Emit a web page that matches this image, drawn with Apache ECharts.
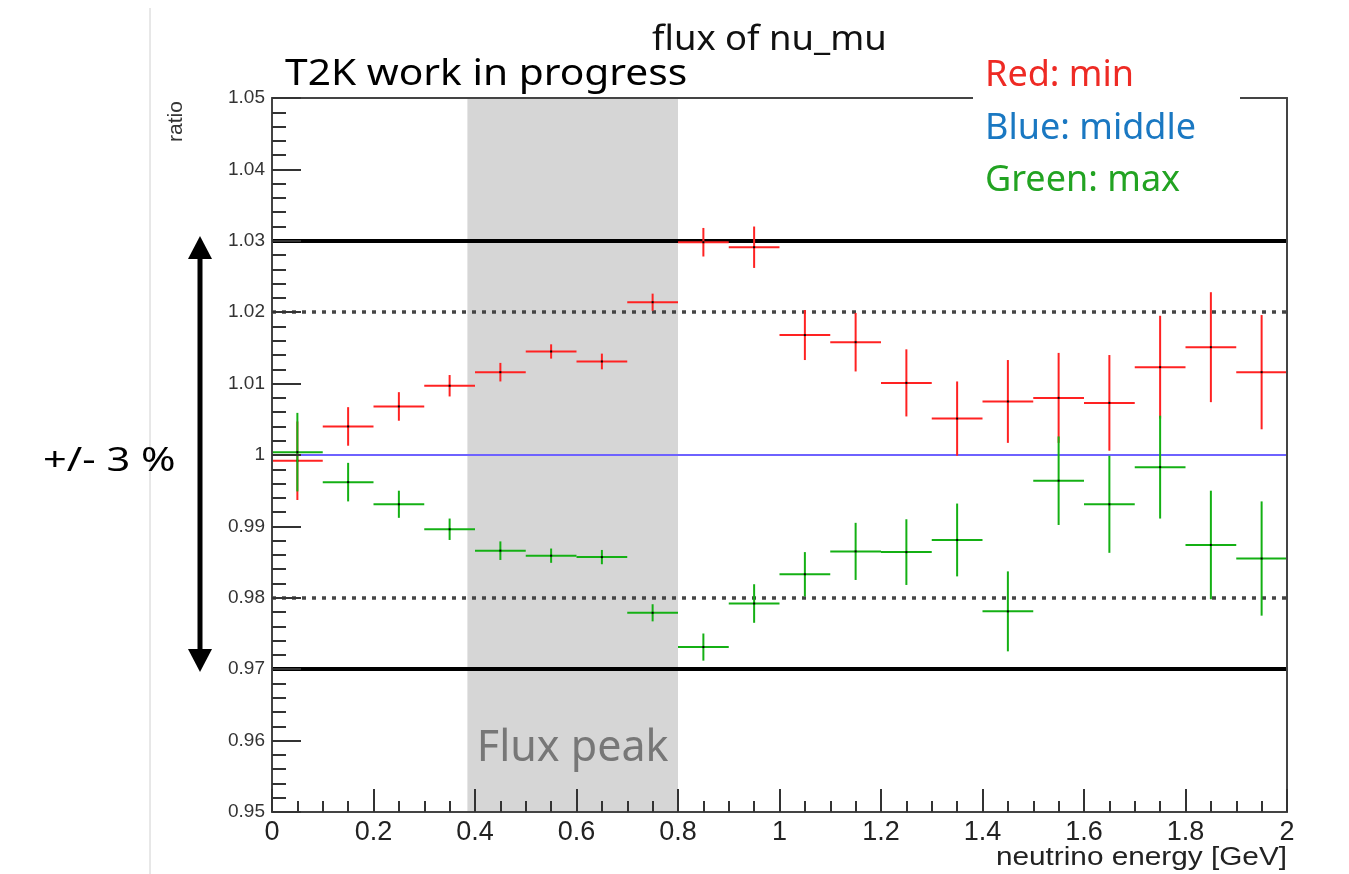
<!DOCTYPE html>
<html><head><meta charset="utf-8">
<script src="https://cdn.jsdelivr.net/npm/echarts@6/dist/echarts.min.js"></script>
<style>html,body{margin:0;padding:0;background:#fff}#c{width:1349px;height:874px}</style>
</head><body><div id="c"></div>
<script>
// ---- data ----
const binCenters = [0.05,0.15,0.25,0.35,0.45,0.55,0.65,0.75,0.85,0.95,1.05,1.15,1.25,1.35,1.45,1.55,1.65,1.75,1.85,1.95];
const binHalfWidth = 0.05;
const redValues = [0.9992,1.0040,1.0068,1.0097,1.0116,1.0145,1.0131,1.0214,1.0298,1.0291,1.0168,1.0158,1.0101,1.0051,1.0075,1.0080,1.0073,1.0123,1.0151,1.0116];
const redErrors = [0.0055,0.0027,0.0020,0.0015,0.0013,0.0010,0.0011,0.0012,0.0020,0.0029,0.0035,0.0041,0.0047,0.0052,0.0058,0.0063,0.0067,0.0072,0.0077,0.0080];
const greenValues = [1.0004,0.9962,0.9931,0.9896,0.9866,0.9859,0.9857,0.9779,0.9731,0.9792,0.9833,0.9865,0.9864,0.9881,0.9781,0.9964,0.9931,0.9983,0.9874,0.9855];
const greenErrors = [0.0055,0.0027,0.0019,0.0015,0.0013,0.0010,0.0010,0.0012,0.0019,0.0027,0.0031,0.0040,0.0046,0.0051,0.0056,0.0062,0.0068,0.0072,0.0076,0.0080];
const middleLevel = 1.0;
const outerBand = [0.97, 1.03];
const innerBand = [0.98, 1.02];
const fluxPeak = [0.385, 0.8];
const xTicks = [0,0.2,0.4,0.6,0.8,1,1.2,1.4,1.6,1.8,2];
const yTicks = [0.95,0.96,0.97,0.98,0.99,1,1.01,1.02,1.03,1.04,1.05];

const chart = echarts.init(document.getElementById('c'));

function crossSeries(name, values, errors, color){
  return {
    name, type:'custom', z:5,
    data: binCenters.map((x,i)=>[x, values[i], errors[i], binHalfWidth]),
    renderItem(params, api){
      const x=api.value(0), y=api.value(1), e=api.value(2), hw=api.value(3);
      const l=api.coord([x-hw,y]), r=api.coord([x+hw,y]);
      const t=api.coord([x,y+e]), b=api.coord([x,y-e]);
      return {type:'group', children:[
        {type:'line', shape:{x1:l[0],y1:l[1],x2:r[0],y2:r[1]}, style:{stroke:color,lineWidth:2}},
        {type:'line', shape:{x1:t[0],y1:t[1],x2:b[0],y2:b[1]}, style:{stroke:color,lineWidth:2}},
        {type:'rect', shape:{x:l[0]+(r[0]-l[0])/2-1,y:l[1]-1,width:2,height:2}, style:{fill:'#000'}}
      ]};
    }
  };
}

const fontAxis = 'Liberation Sans, Arial, sans-serif';
const fontSlide = 'Noto Sans, Open Sans, sans-serif';

chart.setOption({
  animation:false,
  grid:{left:272, right:62, top:98, bottom:62},
  xAxis:[{
    type:'value', min:xTicks[0], max:xTicks[xTicks.length-1], interval:0.2, z:10,
    axisLine:{show:true, onZero:false, lineStyle:{color:'#444', width:2}},
    axisTick:{show:true, inside:true, length:23, lineStyle:{color:'#333', width:2}},
    minorTick:{show:true, splitNumber:4, length:11, lineStyle:{color:'#333', width:2}},
    splitLine:{show:false},
    axisLabel:{fontFamily:fontAxis, fontSize:27, color:'#222', margin:7,
      formatter:v=>String(Math.round(v*10)/10)}
  },{
    type:'value', position:'top', min:0, max:2, z:10,
    axisLine:{show:true, onZero:false, lineStyle:{color:'#444', width:2}},
    axisTick:{show:false}, axisLabel:{show:false}, splitLine:{show:false}
  }],
  yAxis:[{
    type:'value', min:yTicks[0], max:yTicks[yTicks.length-1], interval:0.01, z:10,
    axisLine:{show:true, onZero:false, lineStyle:{color:'#444', width:2}},
    axisTick:{show:true, inside:true, length:29, lineStyle:{color:'#333', width:2}},
    minorTick:{show:true, splitNumber:5, length:14, lineStyle:{color:'#333', width:2}},
    splitLine:{show:false},
    axisLabel:{fontFamily:fontAxis, fontSize:19, color:'#333', margin:7,
      formatter:v=>{const r=Math.round(v*100)/100; return r===1?'1':r.toFixed(2);}}
  },{
    type:'value', position:'right', min:0.95, max:1.05, z:10,
    axisLine:{show:true, onZero:false, lineStyle:{color:'#444', width:2}},
    axisTick:{show:false}, axisLabel:{show:false}, splitLine:{show:false}
  }],
  series:[
    {type:'line', data:[], z:1, silent:true,
      markArea:{silent:true, itemStyle:{color:'#d6d6d6'},
        label:{show:true, position:'insideBottom', distance:42, fontFamily:fontSlide, fontSize:43, color:'#777'},
        data:[[{name:'Flux peak', xAxis:fluxPeak[0]},{xAxis:fluxPeak[1]}]]}
    },
    {type:'line', data:[], z:3, silent:true,
      markLine:{silent:true, symbol:['none','none'], label:{show:false},
        data:[
          {yAxis:outerBand[1], lineStyle:{color:'#000', width:4, type:'solid'}},
          {yAxis:outerBand[0], lineStyle:{color:'#000', width:4, type:'solid'}},
          {yAxis:innerBand[1], lineStyle:{color:'#444', width:3.5, type:[4,6]}},
          {yAxis:innerBand[0], lineStyle:{color:'#444', width:3.5, type:[4,6]}},
          {yAxis:middleLevel, lineStyle:{color:'#6e62ff', width:2, type:'solid'}}
        ]}
    },
    crossSeries('Red: min', redValues, redErrors, '#f22'),
    crossSeries('Green: max', greenValues, greenErrors, '#14b014')
  ],
  graphic:[
    {type:'line', shape:{x1:150,y1:8,x2:150,y2:874}, style:{stroke:'#d0d0d0', lineWidth:1}, z:1},
    {type:'text', x:652, y:57, scaleX:1.07, style:{text:'flux of nu_mu', x:0, y:0, verticalAlign:'bottom', font:'34px '+fontSlide, fill:'#111'}, z:20},
    {type:'text', x:285, y:93, scaleX:1.1, style:{text:'T2K work in progress', x:0, y:0, verticalAlign:'bottom', font:'37px '+fontSlide, fill:'#000'}, z:20},
    {type:'rect', shape:{x:973, y:56, width:267, height:150}, style:{fill:'#fff'}, z:20},
    {type:'text', style:{text:'Red: min', x:985, y:94, verticalAlign:'bottom', font:'36px '+fontSlide, fill:'#ee2a24'}, z:21},
    {type:'text', style:{text:'Blue: middle', x:985, y:147, verticalAlign:'bottom', font:'36px '+fontSlide, fill:'#1a78c2'}, z:21},
    {type:'text', style:{text:'Green: max', x:985, y:199, verticalAlign:'bottom', font:'36px '+fontSlide, fill:'#22a322'}, z:21},
    {type:'text', rotation:Math.PI/2, x:176, y:142, style:{text:'ratio', x:0, y:0, font:'21px '+fontAxis, fill:'#333', verticalAlign:'middle'}, z:20},
    {type:'text', x:1287, y:871, scaleX:1.19, style:{text:'neutrino energy [GeV]', x:0, y:0, align:'right', verticalAlign:'bottom', font:'25px '+fontAxis, fill:'#222'}, z:20},
    {type:'text', x:43, y:462, scaleX:1.3, style:{text:'+/- 3 %', x:0, y:0, verticalAlign:'middle', font:'32px '+fontSlide, fill:'#000'}, z:20},
    {type:'line', shape:{x1:200,y1:255,x2:200,y2:652}, style:{stroke:'#000', lineWidth:5}, z:20},
    {type:'polygon', shape:{points:[[200,236],[188,259],[212,259]]}, style:{fill:'#000'}, z:20},
    {type:'polygon', shape:{points:[[200,672],[188,649],[212,649]]}, style:{fill:'#000'}, z:20}
  ]
});
</script></body></html>
